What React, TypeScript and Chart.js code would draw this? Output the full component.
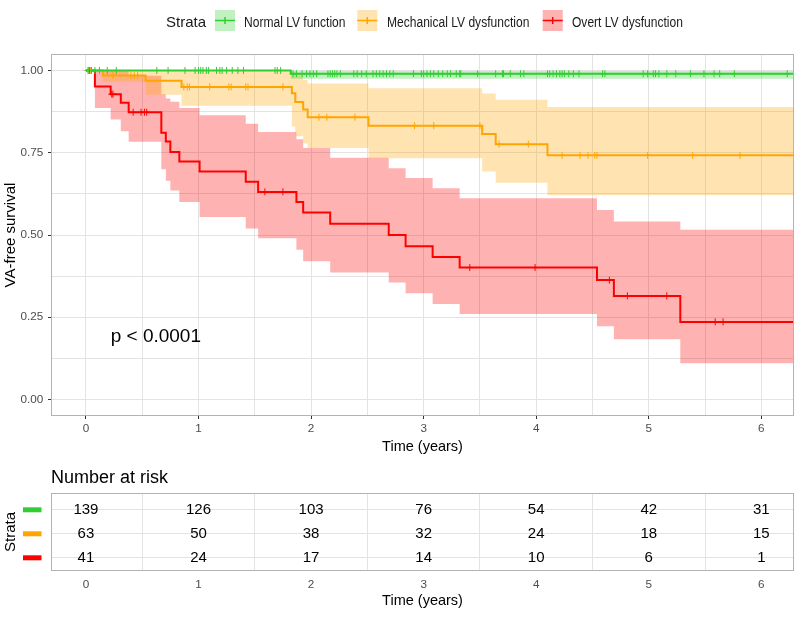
import React, { useEffect, useRef } from "react";
import { Chart, registerables } from "chart.js";

Chart.register(...registerables);

const FONT = '"Liberation Sans", Arial, Helvetica, sans-serif';

// ---------- data ----------
const strataNames = ["Normal LV function", "Mechanical LV dysfunction", "Overt LV dysfunction"];
const lineColors = ["#32CD32", "#FFA500", "#FF0000"];
const bandColors = ["rgba(50,205,50,0.3)", "rgba(255,165,0,0.3)", "rgba(255,0,0,0.3)"];
const keyFills = ["#C1F0C1", "#FFE4B2", "#FFB2B2"];

const normalTimes = [0, 1.82, 6.3];
const normalSurv = [1, 0.99, 0.99];
const normalUpper = [1, 0.998, 0.998];
const normalLower = [1, 0.975, 0.975];
const normalCensor = [0.02, 0.05, 0.08, 0.12, 0.19, 0.27, 0.63, 0.73, 0.88, 0.97, 1.0, 1.02, 1.04, 1.07, 1.09, 1.16, 1.19, 1.21, 1.25, 1.3, 1.35, 1.4, 1.68, 1.7, 1.73, 1.84, 1.87, 1.92, 1.96, 1.99, 2.02, 2.05, 2.15, 2.17, 2.19, 2.21, 2.23, 2.26, 2.38, 2.41, 2.45, 2.49, 2.55, 2.58, 2.61, 2.64, 2.67, 2.7, 2.73, 2.91, 2.98, 3.0, 3.03, 3.06, 3.09, 3.13, 3.17, 3.21, 3.24, 3.29, 3.32, 3.33, 3.48, 3.64, 3.7, 3.71, 3.77, 3.86, 3.89, 4.1, 4.12, 4.15, 4.18, 4.21, 4.23, 4.25, 4.29, 4.33, 4.38, 4.59, 4.61, 4.95, 4.99, 5.04, 5.06, 5.09, 5.16, 5.24, 5.37, 5.49, 5.58, 5.63, 5.76, 6.23];

const mechTimes = [0, 0.15, 0.53, 0.85, 1.83, 1.86, 1.93, 1.97, 2.51, 3.52, 3.64, 4.1, 6.3];
const mechSurv = [1, 0.985, 0.969, 0.95, 0.931, 0.904, 0.881, 0.858, 0.832, 0.807, 0.776, 0.742, 0.742];
const mechUpper = [1, 1, 1, 1, 0.995, 0.985, 0.972, 0.96, 0.946, 0.93, 0.911, 0.889, 0.889];
const mechLower = [1, 0.965, 0.926, 0.893, 0.83, 0.8, 0.778, 0.764, 0.733, 0.693, 0.659, 0.621, 0.621];
const mechCensor = [0.02, 0.04, 0.24, 0.4, 0.43, 0.46, 0.87, 0.9, 0.92, 1.1, 1.27, 1.29, 1.42, 1.44, 1.75, 2.07, 2.14, 2.39, 2.92, 3.09, 3.5, 3.67, 3.93, 4.23, 4.39, 4.46, 4.52, 4.54, 4.99, 5.39, 5.81];

const overtTimes = [0, 0.08, 0.22, 0.31, 0.38, 0.67, 0.71, 0.75, 0.83, 1.01, 1.42, 1.53, 1.87, 1.93, 2.17, 2.69, 2.84, 3.08, 3.32, 4.54, 4.69, 5.28, 6.3];
const overtSurv = [1, 0.951, 0.928, 0.902, 0.873, 0.811, 0.784, 0.752, 0.723, 0.693, 0.662, 0.631, 0.6, 0.568, 0.534, 0.5, 0.466, 0.433, 0.401, 0.363, 0.315, 0.236, 0.236];
const overtUpper = [1, 1, 1, 0.998, 0.984, 0.928, 0.915, 0.905, 0.886, 0.864, 0.838, 0.813, 0.791, 0.764, 0.735, 0.703, 0.673, 0.642, 0.612, 0.576, 0.541, 0.516, 0.516];
const overtLower = [1, 0.886, 0.851, 0.815, 0.783, 0.7, 0.665, 0.635, 0.6, 0.555, 0.52, 0.49, 0.455, 0.42, 0.386, 0.356, 0.323, 0.29, 0.26, 0.223, 0.183, 0.11, 0.11];
const overtCensor = [0.03, 0.23, 0.24, 0.42, 0.49, 0.52, 0.54, 1.59, 1.75, 3.41, 3.99, 4.65, 4.81, 5.16, 5.59, 5.66];

const riskTimes = [0, 1, 2, 3, 4, 5, 6];
const normalRisk = [139, 126, 103, 76, 54, 42, 31];
const mechRisk = [63, 50, 38, 32, 24, 18, 15];
const overtRisk = [41, 24, 17, 14, 10, 6, 1];

const xGridValues = [0, 0.5, 1, 1.5, 2, 2.5, 3, 3.5, 4, 4.5, 5, 5.5, 6];
const yGridValues = [0, 0.125, 0.25, 0.375, 0.5, 0.625, 0.75, 0.875, 1];
const yTickLabelValues = [0, 0.25, 0.5, 0.75, 1];
const riskRows = [1, 2, 3];

const pValueText = "p < 0.0001";
const pValueX = 0.22;
const pValueY = 0.19;

// ---------- helpers ----------
function stepValue(times: number[], vals: number[], t: number) {
  let v = vals[0];
  for (let i = 0; i < times.length; i++) {
    if (times[i] <= t) v = vals[i];
    else break;
  }
  return v;
}
function toPoints(times: number[], vals: number[]) {
  return times.map((t, i) => ({ x: t, y: vals[i] }));
}

const GRID = "#E3E3E3";
const BORDER = "#B3B3B3";
const TICKTXT = "#4D4D4D";
const TRANSPARENT = "rgba(0,0,0,0)";

export default function App() {
  const mainRef = useRef<HTMLCanvasElement>(null);
  const riskRef = useRef<HTMLCanvasElement>(null);

  useEffect(() => {
    const strata = [
      { times: normalTimes, surv: normalSurv, upper: normalUpper, lower: normalLower, censor: normalCensor },
      { times: mechTimes, surv: mechSurv, upper: mechUpper, lower: mechLower, censor: mechCensor },
      { times: overtTimes, surv: overtSurv, upper: overtUpper, lower: overtLower, censor: overtCensor },
    ];

    const datasets: any[] = [];
    strata.forEach((s, k) => {
      datasets.push({
        data: s.censor.map((t) => ({ x: t, y: stepValue(s.times, s.surv, t) })),
        showLine: false,
        pointStyle: "cross",
        pointRadius: 3.5,
        pointBorderWidth: 1,
        pointBorderColor: lineColors[k],
        pointBackgroundColor: lineColors[k],
        order: 1,
      });
      datasets.push({
        data: toPoints(s.times, s.surv),
        stepped: "before",
        borderColor: lineColors[k],
        borderWidth: 2,
        pointRadius: 0,
        fill: false,
        order: 2,
      });
      const upperIndex = datasets.length;
      datasets.push({
        data: toPoints(s.times, s.upper),
        stepped: "before",
        borderColor: TRANSPARENT,
        borderWidth: 0,
        pointRadius: 0,
        fill: false,
        order: 3,
      });
      datasets.push({
        data: toPoints(s.times, s.lower),
        stepped: "before",
        borderColor: TRANSPARENT,
        borderWidth: 0,
        pointRadius: 0,
        fill: upperIndex,
        backgroundColor: bandColors[k],
        order: 3,
      });
    });

    const isInt = (v: number) => Math.abs(v - Math.round(v)) < 1e-9;
    const isQuarter = (v: number) => yTickLabelValues.some((q) => Math.abs(q - v) < 1e-9);

    const mainPlugin = {
      id: "mainDecor",
      afterDraw(chart: any) {
        const ctx = chart.ctx;
        const a = chart.chartArea;
        ctx.save();
        ctx.strokeStyle = BORDER;
        ctx.lineWidth = 1;
        ctx.strokeRect(a.left + 0.5, a.top + 0.5, a.right - a.left - 1, a.bottom - a.top - 1);

        // p value
        ctx.fillStyle = "#000";
        ctx.font = `19px ${FONT}`;
        ctx.textAlign = "left";
        ctx.textBaseline = "middle";
        ctx.fillText(pValueText, chart.scales.x.getPixelForValue(pValueX), chart.scales.y.getPixelForValue(pValueY));

        // axis titles
        ctx.font = `14.5px ${FONT}`;
        ctx.textAlign = "center";
        ctx.textBaseline = "alphabetic";
        ctx.fillText("Time (years)", (a.left + a.right) / 2, 451);
        ctx.save();
        ctx.translate(15, (a.top + a.bottom) / 2);
        ctx.rotate(-Math.PI / 2);
        ctx.font = `15px ${FONT}`;
        ctx.fillText("VA-free survival", 0, 0);
        ctx.restore();

        // legend
        ctx.textAlign = "left";
        ctx.font = `15px ${FONT}`;
        ctx.fillStyle = "#1a1a1a";
        ctx.fillText("Strata", 166, 27);
        const keyCenters = [225, 367.3, 552.7];
        const textX = [244, 387, 572];
        strataNames.forEach((name, k) => {
          const cx = keyCenters[k];
          ctx.fillStyle = keyFills[k];
          ctx.fillRect(cx - 10, 10, 20, 21);
          ctx.strokeStyle = lineColors[k];
          ctx.lineWidth = 1.5;
          ctx.beginPath();
          ctx.moveTo(cx - 10, 20.5);
          ctx.lineTo(cx + 10, 20.5);
          ctx.moveTo(cx, 17);
          ctx.lineTo(cx, 24);
          ctx.stroke();
          ctx.save();
          ctx.translate(textX[k], 27);
          ctx.scale(0.86, 1);
          ctx.font = `14px ${FONT}`;
          ctx.fillStyle = "#1a1a1a";
          ctx.fillText(name, 0, 0);
          ctx.restore();
        });
        ctx.restore();
      },
    };

    const main = new Chart(mainRef.current as HTMLCanvasElement, {
      type: "line",
      data: { datasets },
      options: {
        animation: false,
        responsive: false,
        devicePixelRatio: 1,
        events: [],
        layout: { padding: { top: 54, right: 6, left: 0, bottom: 0 } },
        plugins: { legend: { display: false }, tooltip: { enabled: false } },
        scales: {
          x: {
            type: "linear",
            min: -0.31,
            max: 6.29,
            afterBuildTicks: (s: any) => {
              s.ticks = xGridValues.map((v) => ({ value: v }));
            },
            afterFit: (s: any) => {
              s.height = 39;
            },
            border: { display: false },
            grid: {
              color: GRID,
              lineWidth: 1,
              tickLength: 3,
              tickWidth: 1,
              tickColor: (c: any) => (c.tick && isInt(c.tick.value) ? "#333333" : TRANSPARENT),
            },
            ticks: {
              autoSkip: false,
              maxRotation: 0,
              padding: 2.5,
              color: TICKTXT,
              font: { family: FONT, size: 11.7 },
              callback: (v: any) => (isInt(v) ? String(Math.round(v)) : ""),
            },
          },
          y: {
            type: "linear",
            min: -0.05,
            max: 1.05,
            afterBuildTicks: (s: any) => {
              s.ticks = yGridValues.map((v) => ({ value: v }));
            },
            afterFit: (s: any) => {
              s.width = 51;
            },
            border: { display: false },
            grid: {
              color: GRID,
              lineWidth: 1,
              tickLength: 3,
              tickWidth: 1,
              tickColor: (c: any) => (c.tick && isQuarter(c.tick.value) ? "#333333" : TRANSPARENT),
            },
            ticks: {
              autoSkip: false,
              padding: 4.7,
              color: TICKTXT,
              font: { family: FONT, size: 11.7 },
              callback: (v: any) => (isQuarter(v) ? Number(v).toFixed(2) : ""),
            },
          },
        },
      },
      plugins: [mainPlugin],
    } as any);

    // ---------- risk table ----------
    const riskCounts = [normalRisk, mechRisk, overtRisk];
    const riskDatasets = riskCounts.map((counts, k) => ({
      data: riskTimes.map((t) => ({ x: t, y: riskRows[k] })),
      showLine: false,
      pointRadius: 0,
      counts,
    }));

    const riskPlugin = {
      id: "riskDecor",
      afterDraw(chart: any) {
        const ctx = chart.ctx;
        const a = chart.chartArea;
        ctx.save();
        ctx.strokeStyle = BORDER;
        ctx.lineWidth = 1;
        ctx.strokeRect(a.left + 0.5, a.top + 0.5, a.right - a.left - 1, a.bottom - a.top - 1);

        ctx.fillStyle = "#000";
        ctx.font = `15px ${FONT}`;
        ctx.textAlign = "center";
        ctx.textBaseline = "middle";
        chart.data.datasets.forEach((ds: any, k: number) => {
          const meta = chart.getDatasetMeta(k);
          meta.data.forEach((el: any, i: number) => {
            ctx.fillText(String(ds.counts[i]), el.x, el.y);
          });
          const y = chart.scales.y.getPixelForValue(riskRows[k]);
          ctx.fillStyle = lineColors[k];
          ctx.fillRect(23, y - 2.5, 18.5, 5);
          ctx.fillStyle = "#000";
        });

        ctx.textAlign = "left";
        ctx.textBaseline = "alphabetic";
        ctx.font = `18px ${FONT}`;
        ctx.fillText("Number at risk", 51, 28);

        ctx.textAlign = "center";
        ctx.font = `14.5px ${FONT}`;
        ctx.fillText("Time (years)", (a.left + a.right) / 2, 150.3);

        ctx.save();
        ctx.translate(15, (a.top + a.bottom) / 2);
        ctx.rotate(-Math.PI / 2);
        ctx.font = `15px ${FONT}`;
        ctx.fillText("Strata", 0, 0);
        ctx.restore();
        ctx.restore();
      },
    };

    const risk = new Chart(riskRef.current as HTMLCanvasElement, {
      type: "line",
      data: { datasets: riskDatasets },
      options: {
        animation: false,
        responsive: false,
        devicePixelRatio: 1,
        events: [],
        layout: { padding: { top: 38, right: 6, left: 0, bottom: 0 } },
        plugins: { legend: { display: false }, tooltip: { enabled: false } },
        scales: {
          x: {
            type: "linear",
            min: -0.31,
            max: 6.29,
            afterBuildTicks: (s: any) => {
              s.ticks = xGridValues.map((v) => ({ value: v }));
            },
            afterFit: (s: any) => {
              s.height = 51;
            },
            border: { display: false },
            grid: {
              color: (c: any) => (c.tick && isInt(c.tick.value) ? TRANSPARENT : GRID),
              lineWidth: 1,
              drawTicks: false,
            },
            ticks: {
              autoSkip: false,
              maxRotation: 0,
              padding: 6.5,
              color: TICKTXT,
              font: { family: FONT, size: 11.7 },
              callback: (v: any) => (isInt(v) ? String(Math.round(v)) : ""),
            },
          },
          y: {
            type: "linear",
            min: 0.3,
            max: 3.55,
            reverse: true,
            afterBuildTicks: (s: any) => {
              s.ticks = riskRows.map((v) => ({ value: v }));
            },
            afterFit: (s: any) => {
              s.width = 51;
            },
            border: { display: false },
            grid: { color: GRID, lineWidth: 1, drawTicks: false },
            ticks: { display: false },
          },
        },
      },
      plugins: [riskPlugin],
    } as any);

    return () => {
      main.destroy();
      risk.destroy();
    };
  }, []);

  return (
    <div style={{ position: "fixed", left: 0, top: 0, width: 800, height: 622, background: "#fff" }}>
      <canvas ref={mainRef} width={800} height={455} style={{ display: "block", width: 800, height: 455 }} />
      <canvas ref={riskRef} width={800} height={167} style={{ display: "block", width: 800, height: 167 }} />
    </div>
  );
}
